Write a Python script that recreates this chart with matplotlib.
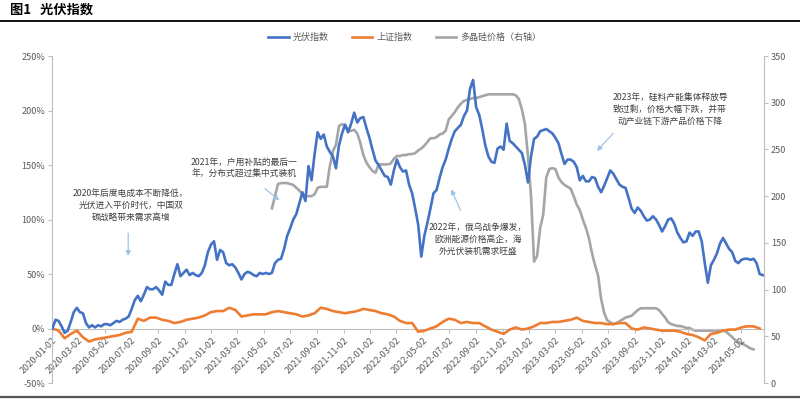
import matplotlib
matplotlib.use("Agg")
import matplotlib.pyplot as plt
from matplotlib.lines import Line2D
import pandas as pd

plt.rcParams['font.family'] = ['Noto Sans CJK SC', 'DejaVu Sans']

# ---- data ----
pv_start = '2020-01-03'  # weekly
pv_index = [0, 8, 7, 2, -4, -2, 6, 15, 19, 15, 14, 5, 1, 3, 1, 3, 2, 4, 4, 3,
            5, 7, 6, 8, 9, 11, 18, 26, 30, 25, 31, 38, 36, 36, 38, 35, 31, 43, 40, 40,
            50, 59, 48, 51, 54, 49, 51, 49, 48, 51, 58, 70, 77, 80, 63, 72, 70, 60, 58, 59,
            56, 51, 45, 50, 52, 51, 49, 48, 51, 50, 51, 50, 51, 60, 63, 64, 73, 85, 92, 100,
            105, 115, 125, 117, 149, 136, 160, 180, 174, 178, 167, 162, 158, 147, 168, 179, 187, 180, 188, 198,
            189, 193, 194, 184, 175, 164, 154, 150, 145, 140, 139, 132, 145, 155, 148, 144, 145, 132, 124, 110,
            95, 66, 85, 97, 110, 124, 127, 138, 148, 155, 165, 174, 181, 184, 187, 195, 200, 220, 228, 203,
            196, 183, 168, 158, 153, 152, 165, 167, 164, 188, 172, 170, 167, 164, 161, 150, 134, 158, 174, 176,
            181, 182, 183, 181, 179, 175, 170, 160, 151, 155, 155, 153, 148, 136, 140, 135, 135, 139, 138, 130,
            125, 131, 138, 145, 142, 137, 132, 130, 129, 120, 110, 106, 111, 108, 103, 99, 100, 103, 100, 95,
            89, 94, 100, 101, 96, 88, 83, 79, 80, 88, 85, 89, 89, 80, 60, 42, 58, 63, 69, 78,
            83, 78, 73, 70, 62, 60, 63, 64, 64, 63, 64, 60, 50, 49]

sh_start = '2020-01-03'  # bi-weekly
sh_index = [0, -2, -9, -5, -2, -8, -12, -10, -9, -8, -7, -6, -4, -3, 9, 7, 10, 10, 8, 7,
            5, 6, 8, 9, 10, 12, 15, 16, 16, 19, 17, 11, 12, 13, 13, 13, 15, 16, 15, 14,
            13, 11, 12, 14, 19, 18, 16, 15, 14, 15, 16, 18, 17, 16, 14, 13, 11, 7, 5, 5,
            -3, -2, 0, 2, 6, 9, 8, 5, 6, 5, 5, 2, -1, -3, -5, -1, 1, -1, 0, 2,
            5, 5, 6, 6, 7, 8, 10, 7, 6, 5, 5, 4, 4, 5, 5, 0, -1, 1, 0, -1,
            -2, -2, -2, -3, -5, -6, -8, -11, -5, -4, -2, -1, -1, 1, 2, 2, 0]

si_start = '2021-05-21'  # weekly
si_price = [187, 200, 213, 214, 214, 214, 213, 212, 209, 206, 202, 200, 200, 200, 202, 209, 210, 210, 210, 232,
            248, 255, 275, 277, 276, 270, 270, 271, 267, 257, 244, 236, 231, 227, 225, 234, 234, 234, 234, 235,
            240, 243, 243, 244, 244, 245, 245, 246, 249, 251, 254, 258, 262, 262, 263, 266, 267, 270, 282, 286,
            290, 295, 299, 302, 303, 304, 305, 305, 306, 307, 308, 309, 309, 309, 309, 309, 309, 309, 309, 309,
            308, 304, 293, 277, 243, 200, 130, 136, 166, 180, 220, 229, 230, 229, 220, 215, 212, 210, 208, 200,
            191, 185, 175, 166, 155, 139, 126, 115, 90, 75, 67, 65, 63, 64, 66, 68, 70, 71, 72, 75,
            78, 80, 80, 80, 80, 80, 80, 78, 74, 70, 65, 63, 62, 61, 61, 60, 59, 59, 57, 56,
            56, 56, 56, 56, 56, 56, 56, 56, 56, 55, 52, 49, 46, 44, 42, 41, 39, 37, 36]

tick_dates = pd.date_range('2020-01-01', '2024-05-01', freq='2MS') + pd.Timedelta(days=1)
legend_labels = ['光伏指数', '上证指数', '多晶硅价格（右轴）']

notes = [
    ('2020年后度电成本不断降低，\n光伏进入平价时代，中国双\n碳战略带来需求高增', '2020-07-01', 113),
    ('2021年，户用补贴的最后一\n年，分布式超过集中式装机', '2021-03-18', 147),
    ('2022年，俄乌战争爆发，\n欧洲能源价格高企，海\n外光伏装机需求旺盛', '2022-09-06', 82),
    ('2023年，硅料产能集体释放导\n致过剩，价格大幅下跌，并带\n动产业链下游产品价格下降', '2023-11-21', 201),
]
arrows = [  # (tail date, tail value, head date, head value) on left axis
    ('2020-06-25', 90, '2020-06-25', 64),
    ('2021-04-30', 130, '2021-06-12', 116),
    ('2022-07-31', 106, '2022-07-04', 130),
    ('2023-07-18', 181, '2023-06-02', 161),
]

# ---- figure ----
fig = plt.figure(figsize=(8, 3.99), dpi=100)
ax = fig.add_axes([0.065, 0.0401, 0.89, 0.8195])
ax2 = ax.twinx()

BLUE, ORANGE, GRAY = '#4472C4', '#ED7D31', '#A5A5A5'
TXT = '#595959'

pv_dates = pd.date_range(pv_start, periods=len(pv_index), freq='W-FRI')
sh_dates = pd.date_range(sh_start, periods=len(sh_index), freq='2W-FRI')
si_dates = pd.date_range(si_start, periods=len(si_price), freq='W-FRI')

l1, = ax.plot(pv_dates, pv_index, color=BLUE, lw=1.9, zorder=5)
l2, = ax.plot(sh_dates, sh_index, color=ORANGE, lw=1.9, zorder=4)
l3, = ax2.plot(si_dates, si_price, color=GRAY, lw=1.9, zorder=3)

ax.set_ylim(-50, 250)
ax.set_yticks(range(-50, 251, 50))
ax.set_yticklabels([f'{v}%' for v in range(-50, 251, 50)])
ax2.set_ylim(0, 350)
ax2.set_yticks(range(0, 351, 50))

ax.set_xlim(pd.Timestamp('2020-01-02'), pd.Timestamp('2024-06-24'))
ax.set_xticks([])
ax.tick_params(axis='y', length=3, color='#BFBFBF', labelsize=6.5, labelcolor=TXT, pad=2)
ax2.tick_params(axis='y', length=3, color='#BFBFBF', labelsize=6.5, labelcolor=TXT, pad=2)

for a in (ax, ax2):
    for s in ('top', 'bottom'):
        a.spines[s].set_visible(False)
    a.spines['left'].set_color('#BFBFBF')
    a.spines['right'].set_color('#BFBFBF')
ax.spines['right'].set_visible(False)
ax2.spines['left'].set_visible(False)

# category axis crossing at 0% with its labels
sec = ax.secondary_xaxis(1/6)
sec.set_xticks(tick_dates)
sec.set_xticklabels([d.strftime('%Y-%m-%d') for d in tick_dates], rotation=45,
                    ha='right', rotation_mode='anchor')
sec.tick_params(axis='x', length=3, color='#BFBFBF', direction='out', labelsize=6.5,
                labelcolor=TXT, pad=2)
sec.spines['bottom'].set_color('#BFBFBF')

ax.set_zorder(ax2.get_zorder() + 1)
ax.patch.set_visible(False)

for txt, d, v in notes:
    ax.text(pd.Timestamp(d), v, txt, fontsize=6.3, color='#404040', ha='center', va='center',
            linespacing=1.45, zorder=6)
for d0, v0, d1, v1 in arrows:
    ax.annotate('', xy=(pd.Timestamp(d1), v1), xytext=(pd.Timestamp(d0), v0),
                arrowprops=dict(arrowstyle='-|>', color='#9DC3E6', lw=0.9,
                                mutation_scale=7), zorder=6)

fig.legend([l1, l2, l3], legend_labels, loc='center', bbox_to_anchor=(0.506, 0.907),
           ncol=3, frameon=False, fontsize=6.5, labelcolor=TXT, handlelength=2.3,
           columnspacing=2.5, handletextpad=0.5)

fig.text(0.012, 0.975, '图1   光伏指数', fontsize=9.5, fontweight='bold', ha='left', va='center')
fig.add_artist(Line2D([0, 1], [0.948, 0.948], color='black', lw=1.3))
fig.add_artist(Line2D([0, 1], [0.006, 0.006], color='#555555', lw=1.6))

fig.savefig('out.png', dpi=100)
